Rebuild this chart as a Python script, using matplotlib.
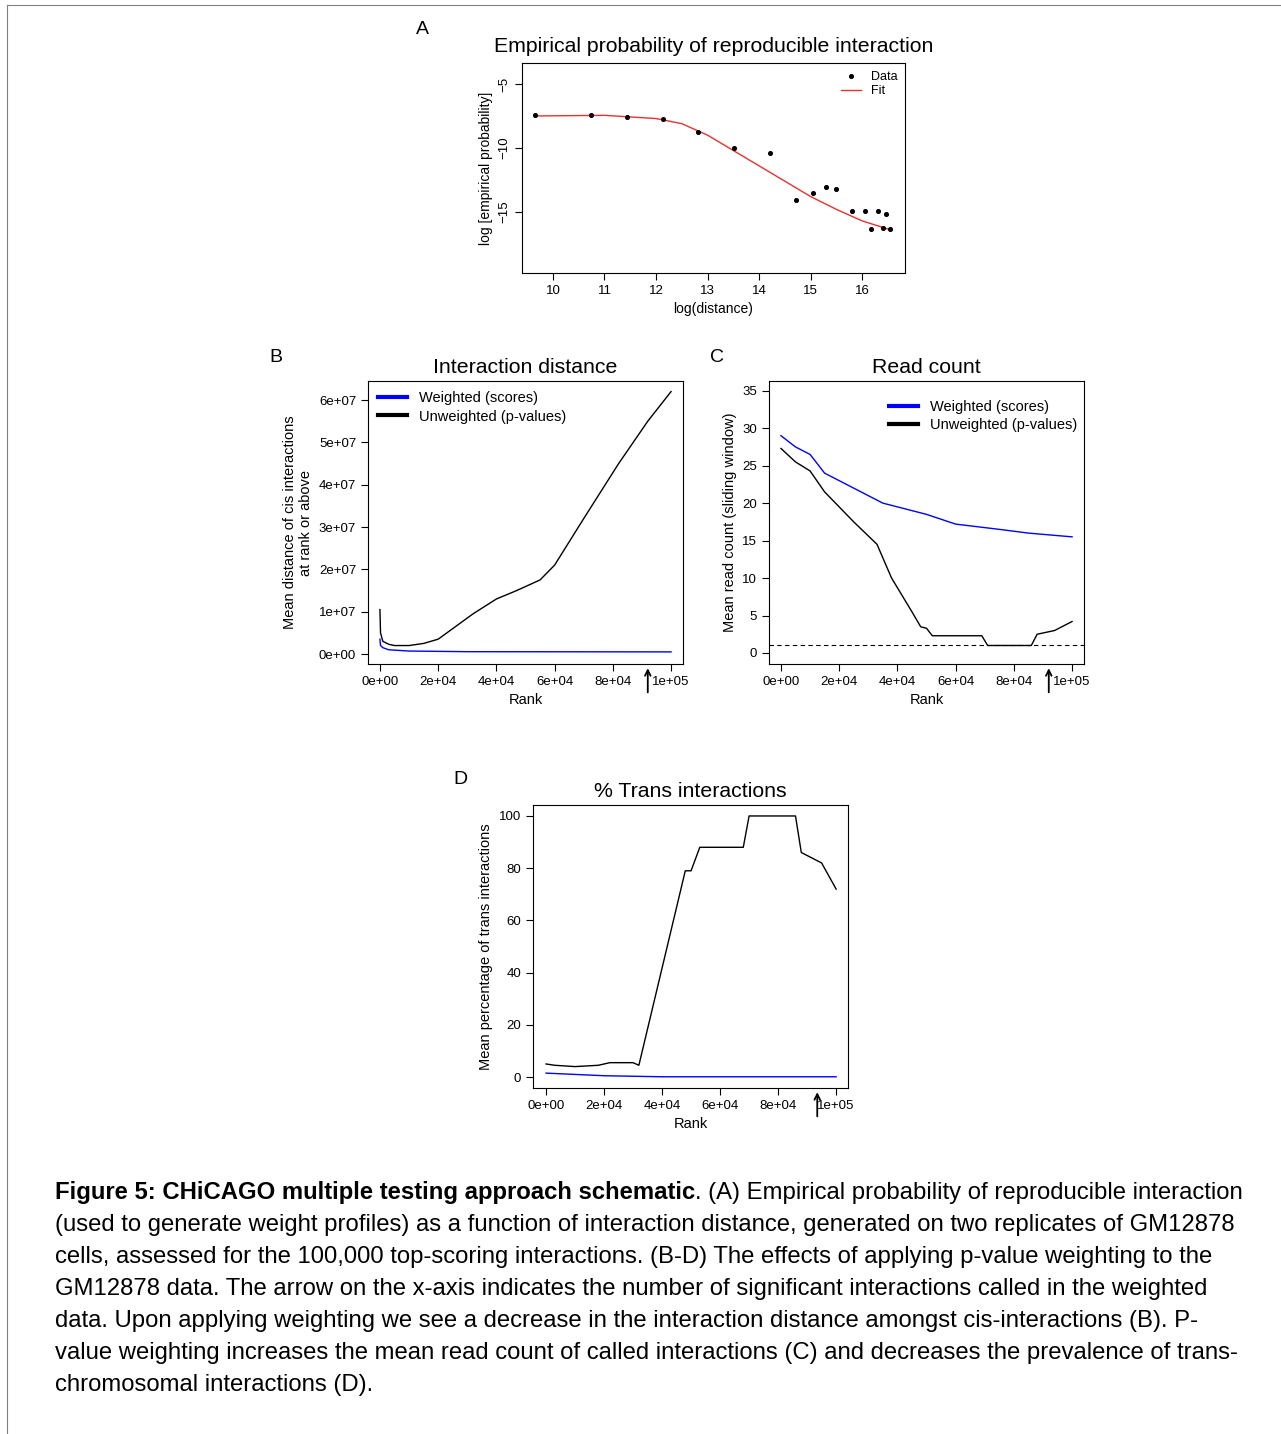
import numpy as np
import matplotlib
matplotlib.use("Agg")
import matplotlib.pyplot as plt

plt.rcParams['font.family'] = ['Liberation Sans', 'DejaVu Sans']

W, H = 1281, 1434

# ---- panel A data ----
a_x = [9.65, 10.74, 11.44, 12.14, 12.82, 13.51, 14.21, 14.72, 15.05, 15.30, 15.50,
       15.81, 16.06, 16.17, 16.31, 16.47, 16.41, 16.54]
a_y = [-7.42, -7.42, -7.58, -7.73, -8.75, -10.0, -10.39, -14.06, -13.52, -13.05, -13.2,
       -14.92, -14.92, -16.33, -14.92, -15.16, -16.25, -16.33]
fit_x = [9.65, 11.0, 12.0, 12.5, 13.0, 13.5, 14.0, 14.5, 15.0, 15.5, 16.0, 16.55]
fit_y = [-7.5, -7.45, -7.7, -8.1, -9.0, -10.2, -11.4, -12.6, -13.8, -14.8, -15.7, -16.4]

# ---- panel B data (rank, mean distance) ----
b_black_x = [0, 200, 1000, 3000, 5000, 10000, 15000, 20000, 25000, 32000, 40000, 47000,
             55000, 60000, 70000, 82000, 92000, 100000]
b_black_y = [1.05e7, 0.5e7, 0.3e7, 0.23e7, 0.2e7, 0.2e7, 0.25e7, 0.35e7, 0.6e7, 0.95e7,
             1.3e7, 1.5e7, 1.75e7, 2.1e7, 3.2e7, 4.5e7, 5.5e7, 6.2e7]
b_blue_x = [0, 200, 1000, 3000, 10000, 30000, 100000]
b_blue_y = [0.35e7, 0.2e7, 0.15e7, 0.1e7, 0.07e7, 0.055e7, 0.05e7]

# ---- panel C data (rank, mean read count) ----
c_blue_x = [0, 5000, 10000, 15000, 25000, 35000, 50000, 60000, 75000, 85000, 100000]
c_blue_y = [29, 27.5, 26.5, 24, 22, 20, 18.5, 17.2, 16.5, 16, 15.5]
c_black_x = [0, 5000, 10000, 15000, 25000, 33000, 38000, 45000, 48000, 50000, 52000,
             69000, 71000, 86000, 88000, 94000, 100000]
c_black_y = [27.3, 25.5, 24.3, 21.5, 17.5, 14.5, 10, 5.5, 3.5, 3.3, 2.3, 2.3, 1, 1, 2.5, 3.0, 4.2]

# ---- panel D data (rank, % trans) ----
d_black_x = [0, 3000, 10000, 18000, 22000, 30000, 32000, 48000, 50000, 53000, 68000,
             70000, 86000, 88000, 95000, 100000]
d_black_y = [5, 4.5, 4, 4.5, 5.5, 5.5, 4.5, 79, 79, 88, 88, 100, 100, 86, 82, 72]
d_blue_x = [0, 10000, 20000, 40000, 100000]
d_blue_y = [1.5, 1.0, 0.5, 0.1, 0.1]

rank_ticks = [0, 20000, 40000, 60000, 80000, 100000]
rank_labels = ["0e+00", "2e+04", "4e+04", "6e+04", "8e+04", "1e+05"]

fig = plt.figure(figsize=(W / 100, H / 100), dpi=100)


def add_ax(x0, y0, x1, y1):
    return fig.add_axes([x0 / W, 1 - y1 / H, (x1 - x0) / W, (y1 - y0) / H])


def style(ax):
    ax.tick_params(direction="out", length=5, labelsize=9.5, width=0.8)
    for s in ax.spines.values():
        s.set_linewidth(0.8)


def arrow(ax, x):
    ax.annotate("", xy=(x, -0.005), xycoords=("data", "axes fraction"),
                xytext=(x, -0.11), textcoords=("data", "axes fraction"),
                arrowprops=dict(arrowstyle="->", lw=1.3, color="black"), annotation_clip=False)


# outer frame
fig.add_artist(plt.Line2D([7 / W, 7 / W], [0, 1 - 5 / H], color="0.5", lw=0.8))
fig.add_artist(plt.Line2D([7 / W, 1], [1 - 5 / H, 1 - 5 / H], color="0.5", lw=0.8))

# ---- A ----
ax = add_ax(522, 63, 905, 273)
style(ax)
ax.scatter(a_x, a_y, s=7, color="black", label="Data", zorder=3)
ax.plot(fit_x, fit_y, color="#e8312f", lw=1, label="Fit")
ax.set_xlim(9.4, 16.83)
ax.set_ylim(-19.77, -3.36)
ax.set_xticks(range(10, 17))
ax.set_yticks([-5, -10, -15])
ax.set_yticklabels(["\u22125", "\u221210", "\u221215"], rotation=90, va="center")
ax.set_xlabel("log(distance)", fontsize=10)
ax.set_ylabel("log [empirical probability]", fontsize=10)
ax.set_title("Empirical probability of reproducible interaction", fontsize=15.3, pad=8)
ax.legend(loc="upper right", fontsize=9, frameon=False, handlelength=1.6,
          borderaxespad=0.2, labelspacing=0.2)
fig.text(422 / W, 1 - 30 / H, "A", fontsize=14, ha="center", va="center")

# ---- B ----
ax = add_ax(368, 381, 683, 664)
style(ax)
ax.plot(b_blue_x, b_blue_y, color="blue", lw=1, label="Weighted (scores)")
ax.plot(b_black_x, b_black_y, color="black", lw=1, label="Unweighted (p-values)")
ax.set_xlim(-4100, 104100)
ax.set_ylim(-2.36e6, 64.5e6)
ax.set_xticks(rank_ticks)
ax.set_xticklabels(rank_labels)
ax.set_yticks([0, 1e7, 2e7, 3e7, 4e7, 5e7, 6e7])
ax.set_yticklabels(["0e+00", "1e+07", "2e+07", "3e+07", "4e+07", "5e+07", "6e+07"])
ax.set_xlabel("Rank", fontsize=10.5)
ax.set_ylabel("Mean distance of cis interactions\nat rank or above", fontsize=10.5)
ax.set_title("Interaction distance", fontsize=15.3, pad=6)
leg = ax.legend(loc="upper left", fontsize=10.5, frameon=False, handlelength=2,
                borderaxespad=0.3, labelspacing=0.3)
for l in leg.get_lines():
    l.set_linewidth(3)
arrow(ax, 92000)
fig.text(276 / W, 1 - 357 / H, "B", fontsize=14, ha="center", va="center")

# ---- C ----
ax = add_ax(769, 381, 1084, 664)
style(ax)
ax.plot(c_blue_x, c_blue_y, color="blue", lw=1, label="Weighted (scores)")
ax.plot(c_black_x, c_black_y, color="black", lw=1, label="Unweighted (p-values)")
ax.axhline(1, color="black", lw=0.8, ls=(0, (4, 3)))
ax.set_xlim(-4100, 104100)
ax.set_ylim(-1.47, 36.3)
ax.set_xticks(rank_ticks)
ax.set_xticklabels(rank_labels)
ax.set_yticks(range(0, 36, 5))
ax.set_xlabel("Rank", fontsize=10.5)
ax.set_ylabel("Mean read count (sliding window)", fontsize=10.5)
ax.set_title("Read count", fontsize=15.3, pad=6)
leg = ax.legend(loc="upper right", fontsize=10.5, frameon=False, handlelength=2,
                bbox_to_anchor=(1.01, 0.97), borderaxespad=0.3, labelspacing=0.3)
for l in leg.get_lines():
    l.set_linewidth(3)
arrow(ax, 92000)
fig.text(717 / W, 1 - 357 / H, "C", fontsize=14, ha="center", va="center")

# ---- D ----
ax = add_ax(533, 805, 848, 1088)
style(ax)
ax.plot(d_black_x, d_black_y, color="black", lw=1)
ax.plot(d_blue_x, d_blue_y, color="blue", lw=1)
ax.set_xlim(-4500, 104100)
ax.set_ylim(-4.2, 104.2)
ax.set_xticks(rank_ticks)
ax.set_xticklabels(rank_labels)
ax.set_yticks(range(0, 101, 20))
ax.set_xlabel("Rank", fontsize=10.5)
ax.set_ylabel("Mean percentage of trans interactions", fontsize=10.5)
ax.set_title("% Trans interactions", fontsize=15.3, pad=6)
arrow(ax, 93500)
fig.text(460 / W, 1 - 780 / H, "D", fontsize=14, ha="center", va="center")

# ---- caption ----
cap_lines = [
    "(A) Empirical probability of reproducible interaction",
    "(used to generate weight profiles) as a function of interaction distance, generated on two replicates of GM12878",
    "cells, assessed for the 100,000 top-scoring interactions. (B-D) The effects of applying p-value weighting to the",
    "GM12878 data. The arrow on the x-axis indicates the number of significant interactions called in the weighted",
    "data. Upon applying weighting we see a decrease in the interaction distance amongst cis-interactions (B). P-",
    "value weighting increases the mean read count of called interactions (C) and decreases the prevalence of trans-",
    "chromosomal interactions (D).",
]
x0 = 55 / W
fs = 17.2
bold = fig.text(x0, 1 - 1193 / H, "Figure 5: CHiCAGO multiple testing approach schematic",
                fontsize=fs, fontweight="bold", va="center")
fig.canvas.draw()
bb = bold.get_window_extent(fig.canvas.get_renderer())
fig.text(bb.x1 / W, 1 - 1193 / H, ". " + cap_lines[0], fontsize=fs, va="center")
for i, line in enumerate(cap_lines[1:], start=1):
    fig.text(x0, 1 - (1193 + 32 * i) / H, line, fontsize=fs, va="center")

fig.savefig("out.png", dpi=100)
